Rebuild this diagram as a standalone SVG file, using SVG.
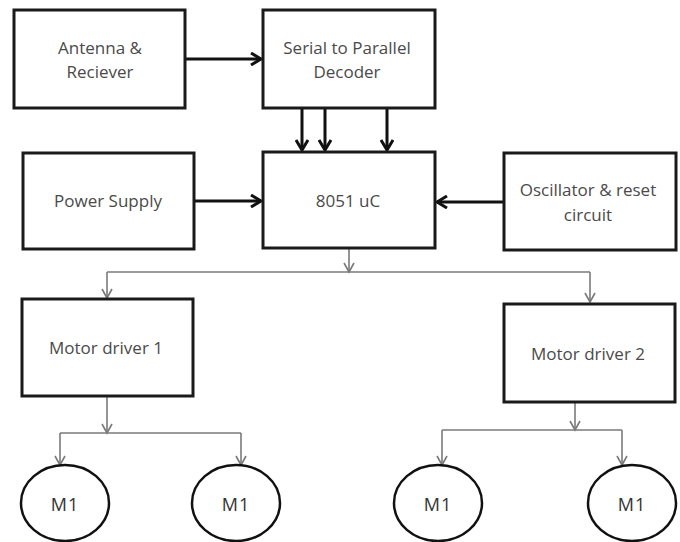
<svg xmlns="http://www.w3.org/2000/svg" width="680" height="542" viewBox="0 0 680 542">
<style>
.box{fill:#fff;stroke:#1a1a1a;stroke-width:3}
.mot{fill:#fff;stroke:#111;stroke-width:2.5}
.t{font-family:"Open Sans","Liberation Sans",sans-serif;font-size:17px;fill:#4a4a4a;text-anchor:middle}
.m{font-family:"Open Sans","Liberation Sans",sans-serif;font-size:18px;letter-spacing:1px;fill:#333;text-anchor:middle}
.thick{fill:none;stroke:#111;stroke-width:3}
.thin{fill:none;stroke:#7a7a7a;stroke-width:1.6}
</style>
<defs>
<marker id="ah" markerUnits="userSpaceOnUse" viewBox="-12 -7 14 14" refX="0" refY="0" markerWidth="14" markerHeight="14" orient="auto">
<path d="M-10,-6 L0,0 L-10,6" fill="none" stroke="#111" stroke-width="3"/>
</marker>
<marker id="al" markerUnits="userSpaceOnUse" viewBox="-12 -7 14 14" refX="0" refY="0" markerWidth="14" markerHeight="14" orient="auto">
<path d="M-9,-5 L0,0 L-9,5" fill="none" stroke="#7a7a7a" stroke-width="1.6"/>
</marker>
</defs>
<rect width="680" height="542" fill="#fff"/>
<g id="connectors">
<path class="thick" d="M185,59 H261" marker-end="url(#ah)"/>
<path class="thick" d="M302,108 V150" marker-end="url(#ah)"/>
<path class="thick" d="M325,108 V150" marker-end="url(#ah)"/>
<path class="thick" d="M387,108 V150" marker-end="url(#ah)"/>
<path class="thick" d="M194,201 H261" marker-end="url(#ah)"/>
<path class="thick" d="M504,202 H437" marker-end="url(#ah)"/>
<path class="thin" d="M349,248 V272" marker-end="url(#al)"/>
<path class="thin" d="M107,272 H590"/>
<path class="thin" d="M107,272 V298" marker-end="url(#al)"/>
<path class="thin" d="M590,272 V302" marker-end="url(#al)"/>
<path class="thin" d="M107,396 V433" marker-end="url(#al)"/>
<path class="thin" d="M60,433 H241"/>
<path class="thin" d="M60,433 V465" marker-end="url(#al)"/>
<path class="thin" d="M241,433 V465" marker-end="url(#al)"/>
<path class="thin" d="M575,402 V430" marker-end="url(#al)"/>
<path class="thin" d="M442,430 H622"/>
<path class="thin" d="M442,430 V465" marker-end="url(#al)"/>
<path class="thin" d="M622,430 V465" marker-end="url(#al)"/>
</g>
<g id="antenna">
<rect class="box" x="14" y="10" width="171" height="98"/>
<text class="t" x="100" y="54">Antenna &amp;</text>
<text class="t" x="100" y="78">Reciever</text>
</g>
<g id="decoder">
<rect class="box" x="263" y="10" width="172" height="98"/>
<text class="t" x="347" y="54">Serial to Parallel</text>
<text class="t" x="347" y="78">Decoder</text>
</g>
<g id="power">
<rect class="box" x="23" y="153" width="171" height="96"/>
<text class="t" x="108" y="207">Power Supply</text>
</g>
<g id="uc">
<rect class="box" x="263" y="152" width="172" height="96"/>
<text class="t" x="348" y="207">8051 uC</text>
</g>
<g id="osc">
<rect class="box" x="504" y="153" width="172" height="97"/>
<text class="t" x="588" y="196">Oscillator &amp; reset</text>
<text class="t" x="588" y="221">circuit</text>
</g>
<g id="driver1">
<rect class="box" x="22" y="299" width="171" height="97"/>
<text class="t" x="106" y="354">Motor driver 1</text>
</g>
<g id="driver2">
<rect class="box" x="504" y="304" width="171" height="98"/>
<text class="t" x="588" y="360">Motor driver 2</text>
</g>
<g id="m1a">
<ellipse class="mot" cx="65" cy="503" rx="44" ry="38"/>
<text class="m" x="65" y="511">M1</text>
</g>
<g id="m1b">
<ellipse class="mot" cx="236" cy="503" rx="44" ry="38"/>
<text class="m" x="236" y="511">M1</text>
</g>
<g id="m1c">
<ellipse class="mot" cx="438" cy="503" rx="44" ry="38"/>
<text class="m" x="438" y="511">M1</text>
</g>
<g id="m1d">
<ellipse class="mot" cx="632" cy="503" rx="44" ry="38"/>
<text class="m" x="632" y="511">M1</text>
</g>
</svg>
